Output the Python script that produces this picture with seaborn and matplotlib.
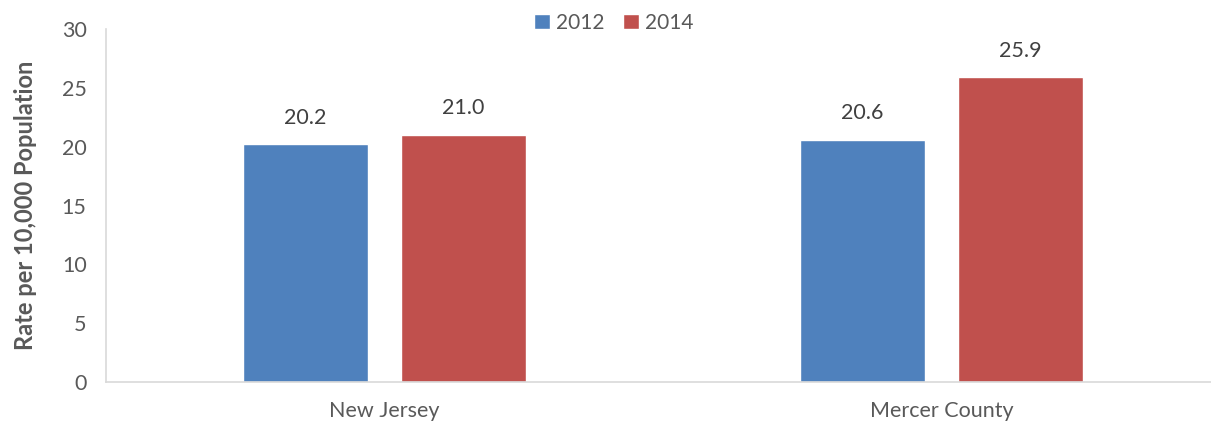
import matplotlib
matplotlib.use("Agg")
import matplotlib.pyplot as plt
import seaborn as sns
import pandas as pd

categories = ["New Jersey", "Mercer County"]
years = ["2012", "2014"]
values_2012 = [20.2, 20.6]
values_2014 = [21.0, 25.9]
y_ticks = [0, 5, 10, 15, 20, 25, 30]

df = pd.DataFrame({
    "Region": categories * 2,
    "Year": [years[0]] * 2 + [years[1]] * 2,
    "Rate": values_2012 + values_2014,
})

sns.set_theme(style="white")
plt.rcParams['font.family'] = ['Lato', 'DejaVu Sans']
text_color = "#595959"
fs = 15.5

fig = plt.figure(figsize=(12.11, 4.24), dpi=100)
ax = fig.add_axes([106 / 1211, 1 - 382 / 424, (1220 - 106) / 1211, (382 - 29) / 424])

palette = {"2012": "#4F81BD", "2014": "#C0504D"}
sns.barplot(data=df, x="Region", y="Rate", hue="Year", order=categories,
            hue_order=years, palette=palette, width=0.567, gap=0.203,
            saturation=1, ax=ax, errorbar=None)

for cont in ax.containers:
    ax.bar_label(cont, fmt="%.1f", padding=12, fontsize=fs, color="#404040")

ax.set_ylim(0, 30)
ax.set_xlim(-0.5, 1.5)
ax.set_yticks(y_ticks)
ax.tick_params(axis="both", labelsize=fs, colors=text_color, length=0)
ax.tick_params(axis="x", pad=14)
ax.tick_params(axis="y", pad=14)
ax.set_xlabel("")
ax.set_ylabel("Rate per 10,000 Population", fontsize=17, fontweight="bold",
              color=text_color, labelpad=18)

for s in ["top", "right"]:
    ax.spines[s].set_visible(False)
for s in ["left", "bottom"]:
    ax.spines[s].set_color("#d9d9d9")
    ax.spines[s].set_linewidth(1.2)

leg = ax.legend(loc="upper center", bbox_to_anchor=(614 / 1211, 1.0),
                bbox_transform=fig.transFigure, ncol=2, frameon=False,
                fontsize=15, handlelength=0.75, handleheight=0.75,
                handletextpad=0.3, columnspacing=0.9, borderaxespad=0.2)
for t in leg.get_texts():
    t.set_color(text_color)

fig.savefig("out.png", dpi=100)
